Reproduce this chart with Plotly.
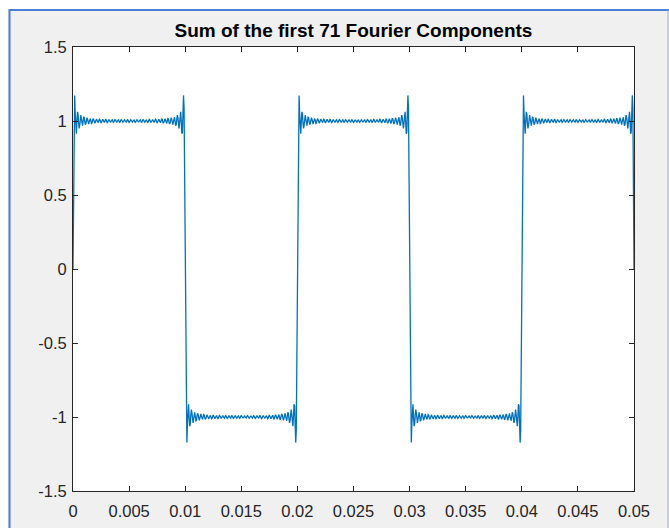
import numpy as np
import plotly.graph_objects as go

# Square wave (50 Hz) rebuilt from its odd sine harmonics
fundamental_hz = 50.0
harmonics = [1, 3, 5, 7, 9, 11, 13, 15, 17, 19, 21, 23, 25, 27, 29, 31, 33, 35,
             37, 39, 41, 43, 45, 47, 49, 51, 53, 55, 57, 59, 61, 63, 65, 67, 69, 71]
t_start, t_end, t_step = 0.0, 0.05, 5e-5

x_ticks = [0, 0.005, 0.01, 0.015, 0.02, 0.025, 0.03, 0.035, 0.04, 0.045, 0.05]
x_tick_labels = ["0", "0.005", "0.01", "0.015", "0.02", "0.025", "0.03", "0.035", "0.04", "0.045", "0.05"]
y_ticks = [-1.5, -1, -0.5, 0, 0.5, 1, 1.5]
y_tick_labels = ["-1.5", "-1", "-0.5", "0", "0.5", "1", "1.5"]

t = np.arange(t_start, t_end + t_step / 2, t_step)
y = np.zeros_like(t)
for n in harmonics:
    y += 4.0 / (np.pi * n) * np.sin(2 * np.pi * n * fundamental_hz * t)

W, H = 669, 528
L, R, T, B = 73, 35, 47, 37
axis_col = "#262626"
font_family = "Liberation Sans, Arial, Helvetica, sans-serif"

fig = go.Figure()
fig.add_trace(go.Scatter(x=t, y=y, mode="lines",
                         line=dict(color="#0072BD", width=1.3),
                         hoverinfo="skip", showlegend=False))

pw = W - L - R
ph = H - T - B


def px_x(p):
    return (p - L) / pw


def px_y(p):
    return 1 - (p - T) / ph


# window frame: white strip outside, blue edge lines
shapes = [
    dict(type="rect", xref="paper", yref="paper", x0=px_x(0), x1=px_x(W), y0=px_y(0), y1=px_y(9),
         fillcolor="white", line=dict(width=0), layer="below"),
    dict(type="rect", xref="paper", yref="paper", x0=px_x(0), x1=px_x(8), y0=px_y(0), y1=px_y(H),
         fillcolor="white", line=dict(width=0), layer="below"),
    dict(type="line", xref="paper", yref="paper", x0=px_x(9), x1=px_x(W), y0=px_y(10), y1=px_y(10),
         line=dict(color="#4a7fd4", width=2)),
    dict(type="line", xref="paper", yref="paper", x0=px_x(9.5), x1=px_x(9.5), y0=px_y(9), y1=px_y(H),
         line=dict(color="#4a7fd4", width=2)),
    dict(type="line", xref="paper", yref="paper", x0=px_x(668), x1=px_x(668), y0=px_y(10), y1=px_y(H),
         line=dict(color="#8fb0e6", width=1)),
]

fig.update_layout(
    width=W, height=H,
    margin=dict(l=L, r=R, t=T, b=B, autoexpand=False),
    paper_bgcolor="#f0f0f0",
    plot_bgcolor="white",
    shapes=shapes,
    title=dict(text="<b>Sum of the first 71 Fourier Components</b>",
               x=(L + pw / 2) / W, xanchor="center", xref="container",
               y=1 - 30 / H, yanchor="middle", yref="container",
               font=dict(family=font_family, size=19, color="#000000")),
    xaxis=dict(range=[0, 0.05], tickvals=x_ticks, ticktext=x_tick_labels,
               ticks="inside", ticklen=5, tickcolor=axis_col, tickwidth=1,
               showline=True, linecolor=axis_col, linewidth=1, mirror="ticks",
               showgrid=False, zeroline=False, ticklabelstandoff=5, automargin=False,
               tickfont=dict(family=font_family, size=16.5, color=axis_col)),
    yaxis=dict(range=[-1.5, 1.5], tickvals=y_ticks, ticktext=y_tick_labels,
               ticks="inside", ticklen=5, tickcolor=axis_col, tickwidth=1,
               showline=True, linecolor=axis_col, linewidth=1, mirror="ticks",
               showgrid=False, zeroline=False, ticklabelstandoff=2, automargin=False,
               tickfont=dict(family=font_family, size=16.5, color=axis_col)),
)

fig.write_html("out.html")
